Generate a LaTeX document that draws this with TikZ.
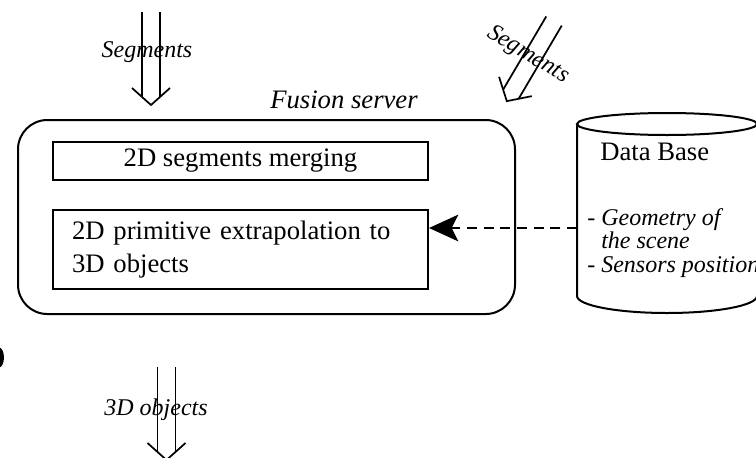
\documentclass[tikz,border=0pt]{standalone}
\usepackage{fontspec}
\setmainfont{Liberation Serif}[ItalicFont={Liberation Serif Italic}, BoldFont={Liberation Serif Bold}]
\usetikzlibrary{arrows.meta}
\tikzset{
  boxline/.style={draw, line width=1.5pt},
  arrowline/.style={line width=1.3pt, line cap=butt},
  dblarrow/.pic={
    \draw[arrowline] (-9,0) coordinate (-a) -- (-9,85) (9,0) -- (9,85);
    \draw[arrowline, line join=miter] (-19,76) -- (0,93) coordinate (-tip) -- (19,76);
  },
  lbl/.style={font=\fontsize{18}{20}\selectfont\itshape, inner sep=0pt},
  maintext/.style={font=\fontsize{20}{24.5}\selectfont},
}
\begin{document}
\begin{tikzpicture}[x=0.75pt,y=-0.75pt]
\useasboundingbox (0,0) rectangle (756,457);
% double arrows
\pic (inL) at (151,12) {dblarrow};
\pic (inR) at (554,21) [rotate=-30.5] {dblarrow};
\pic (out) at (166.5,367) {dblarrow};
\node[lbl] (segL) at (147,52) {Segments};
\node[lbl, rotate=-31] (segR) at (528,55) {Segments};
\node[lbl] (objs) at (156,410) {3D objects};
% fusion server
\node[font=\fontsize{20}{24}\selectfont\itshape, inner sep=0pt] (fslabel) at (344,100) {Fusion server};
\node[boxline, rounded corners=22pt, minimum width=372.75pt, minimum height=145.5pt] (server) at (266.5,217) {};
\node[boxline, maintext, minimum width=281.25pt, minimum height=28.5pt, inner sep=0pt] (merge) at (240.5,161) {2D segments merging};
\node[boxline, maintext, minimum width=281.25pt, minimum height=59.25pt, text width=252.75pt, inner xsep=14.25pt, align=left] (extra) at (240.5,249.5) {2D primitive extrapolation to\\3D objects};
% data base cylinder
\draw[line width=1.5pt] (667,124) ellipse [x radius=90, y radius=11];
\draw[line width=1.5pt] (577,124) -- (577,296) arc[start angle=180, end angle=360, x radius=90, y radius=-17] -- (757,124);
\coordinate (dbL) at (577,228);
\node[maintext, anchor=west, inner sep=0pt] (dbtitle) at (600,152) {Data Base};
\node[font=\fontsize{18}{17.6}\selectfont\itshape, anchor=west, align=left, inner sep=0pt] (dbtext) at (587,243) {- Geometry of\\\hphantom{- }the scene\\- Sensors position};
% dashed arrow
\draw[line width=1.6pt, dash pattern=on 7.5pt off 5pt, -{Stealth[length=22pt, width=20pt, inset=5pt]}] (dbL) -- (dbL -| extra.east);
% partial mark at left edge
\fill (-1,357.5) ellipse [x radius=5, y radius=10];
\end{tikzpicture}
\end{document}
